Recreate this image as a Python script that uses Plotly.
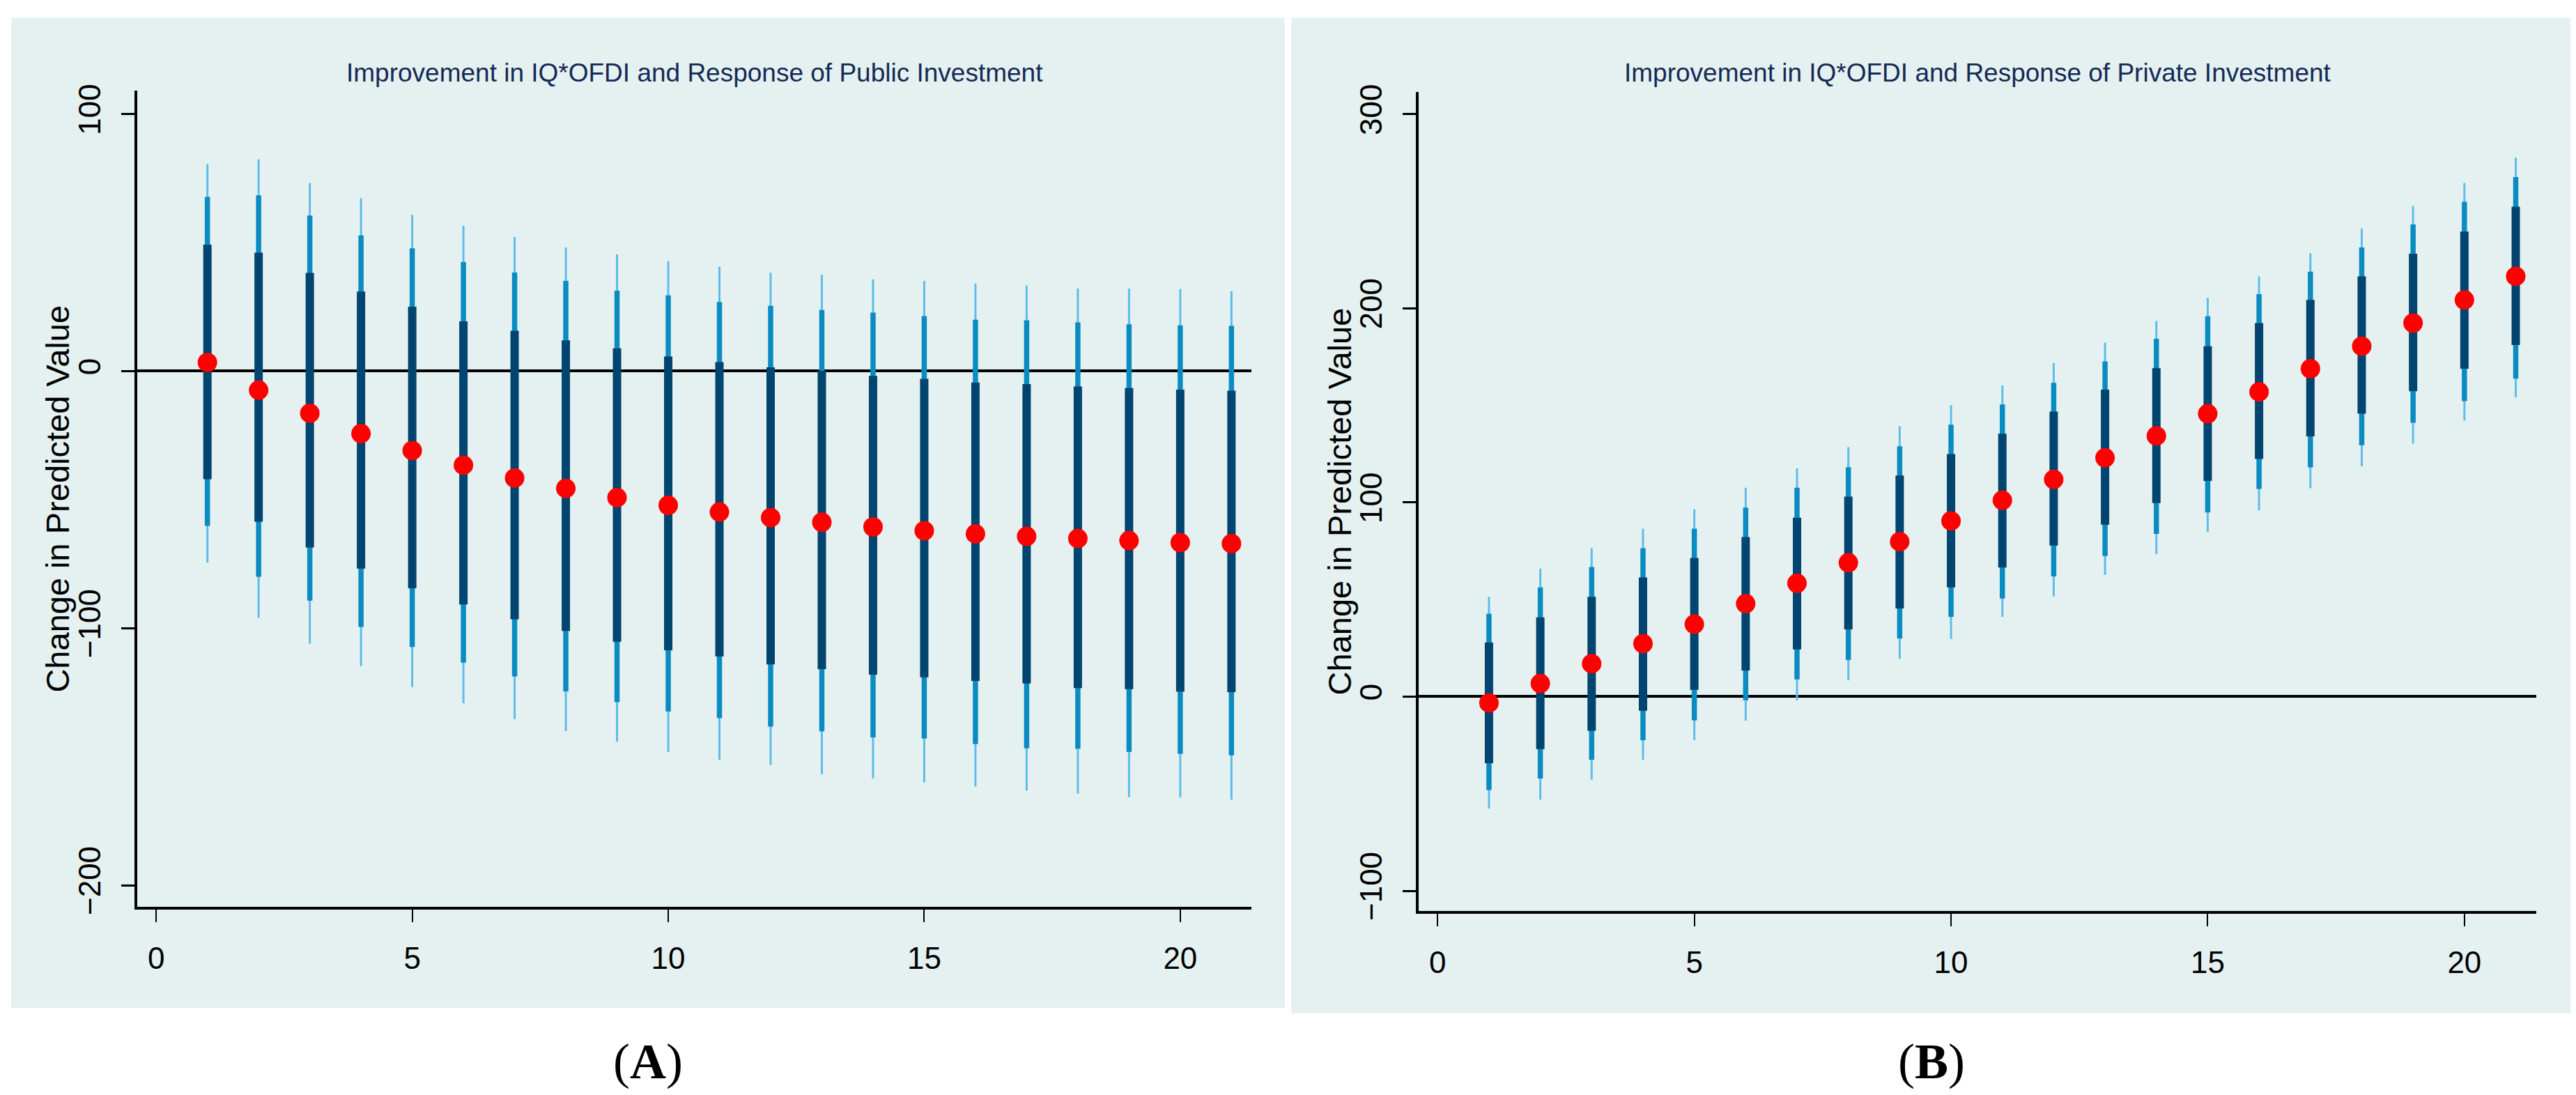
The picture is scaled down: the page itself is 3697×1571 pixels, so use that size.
import plotly.graph_objects as go

W, H = 3697, 1571

steps = list(range(1, 22))

# Panel A: public investment
pub_est = [3.4, -7.4, -16.4, -24.3, -30.9, -36.6, -41.6, -45.6, -49.2, -52.2, -54.8,
           -57.0, -58.8, -60.6, -62.1, -63.3, -64.3, -65.1, -65.9, -66.7, -67.1]
pub_hi_in = [49.2, 46.1, 38.2, 31.0, 25.1, 19.4, 15.7, 12.0, 8.9, 5.7, 3.5,
             1.5, 0.1, -1.8, -3.0, -4.4, -5.0, -6.0, -6.6, -7.2, -7.6]
pub_lo_in = [-42.0, -58.6, -68.6, -76.8, -84.5, -90.8, -96.5, -101.1, -105.3, -108.6, -111.0,
             -114.1, -115.9, -118.1, -119.1, -120.5, -121.5, -123.3, -123.7, -124.7, -124.9]
pub_hi_mid = [67.8, 68.4, 60.5, 52.8, 47.8, 42.4, 38.4, 35.1, 31.3, 29.5, 26.9,
              25.4, 23.8, 22.8, 21.4, 20.0, 19.8, 19.0, 18.2, 17.8, 17.6]
pub_lo_mid = [-60.2, -80.0, -89.3, -99.5, -107.3, -113.4, -118.8, -124.6, -128.7, -132.4, -135.0,
              -138.3, -140.1, -142.5, -142.9, -145.1, -146.7, -146.9, -148.1, -148.9, -149.5]
pub_hi_out = [80.5, 82.4, 73.2, 67.3, 60.8, 56.5, 52.2, 48.1, 45.4, 42.8, 40.6,
              38.3, 37.5, 35.7, 35.1, 34.1, 33.3, 32.1, 32.1, 31.9, 31.1]
pub_lo_out = [-74.5, -95.9, -106.0, -114.8, -122.9, -129.2, -135.4, -140.0, -144.1, -148.1, -151.2,
              -153.2, -156.8, -158.4, -160.0, -161.6, -163.2, -164.3, -165.7, -165.9, -166.7]

# Panel B: private investment
priv_est = [-3.2, 6.8, 17.0, 27.3, 37.3, 47.9, 58.4, 69.0, 79.8, 90.5, 101.1,
            111.9, 123.0, 134.3, 145.7, 157.0, 168.9, 180.5, 192.4, 204.3, 216.5]
priv_hi_in = [27.9, 40.8, 51.4, 61.4, 71.4, 82.2, 92.2, 103.0, 113.9, 124.9, 135.4,
              146.8, 158.1, 169.2, 180.5, 192.4, 204.3, 216.5, 228.1, 239.5, 252.4]
priv_lo_in = [-34.3, -27.0, -17.6, -7.3, 3.5, 13.5, 24.3, 34.6, 45.4, 56.3, 66.5,
              77.8, 88.6, 99.7, 111.1, 122.4, 134.1, 145.7, 157.3, 168.9, 181.1]
priv_hi_mid = [42.7, 56.3, 66.8, 76.5, 86.5, 97.4, 107.6, 118.2, 129.0, 140.1, 150.5,
               161.6, 172.7, 184.3, 195.9, 207.3, 218.9, 231.4, 243.2, 254.9, 267.6]
priv_lo_mid = [-48.1, -42.2, -32.5, -22.4, -12.2, -1.9, 8.9, 18.9, 30.0, 41.1, 50.5,
               61.9, 72.4, 83.8, 94.9, 107.0, 118.1, 129.5, 141.1, 152.2, 163.8]
priv_hi_out = [51.4, 66.0, 76.5, 86.5, 96.6, 107.6, 117.6, 128.5, 139.3, 150.1, 160.3,
               171.9, 182.4, 193.5, 205.4, 216.5, 228.4, 241.1, 252.7, 264.6, 277.6]
priv_lo_out = [-57.6, -53.0, -42.7, -32.5, -22.4, -12.4, -1.9, 8.4, 19.5, 29.7, 41.1,
               51.6, 62.7, 73.5, 84.9, 95.9, 107.3, 118.6, 130.3, 142.2, 154.1]

titles = ["Improvement in IQ*OFDI and Response of Public Investment",
          "Improvement in IQ*OFDI and Response of Private Investment"]
ytitle = "Change in Predicted Value"
panel_labels = ["(<b>A</b>)", "(<b>B</b>)"]
x_ticks = [0, 5, 10, 15, 20]
y_ticks_a = [-200, -100, 0, 100]
y_ticks_b = [-100, 0, 100, 200, 300]

C_DARK = "#00456f"
C_MID = "#0a8cc3"
C_LIGHT = "#5dbde8"
C_BG = "#e5f1f1"
C_TITLE = "#142a55"
FONT = "Liberation Sans, Arial, sans-serif"


def segs(xv, lo, hi):
    xs, ys = [], []
    for x, a, b in zip(xv, lo, hi):
        xs += [x, x, None]
        ys += [a, b, None]
    return xs, ys


fig = go.Figure()

panels = [
    ("x", "y", pub_est, pub_lo_in, pub_hi_in, pub_lo_mid, pub_hi_mid, pub_lo_out, pub_hi_out),
    ("x2", "y2", priv_est, priv_lo_in, priv_hi_in, priv_lo_mid, priv_hi_mid, priv_lo_out, priv_hi_out),
]
for xa, ya, est, li, hi_, lm, hm, lo_, ho in panels:
    for lo, hi, col, wd in [(lo_, ho, C_LIGHT, 3), (lm, hm, C_MID, 7.5), (li, hi_, C_DARK, 12)]:
        xs, ys = segs(steps, lo, hi)
        fig.add_trace(go.Scatter(x=xs, y=ys, mode="lines", line=dict(color=col, width=wd),
                                 xaxis=xa, yaxis=ya, showlegend=False, hoverinfo="skip"))
    fig.add_trace(go.Scatter(x=steps, y=est, mode="markers",
                             marker=dict(color="#ff0000", size=28, line=dict(width=0)),
                             xaxis=xa, yaxis=ya, showlegend=False))

# geometry in target-image pixels
pa = dict(x0=197, x1=1796, y0=127, y1=1299)
pb = dict(x0=2036, x1=3640, y0=128.6, y1=1305)
bg_a = dict(x0=16, x1=1844, y0=22, y1=1444)
bg_b = dict(x0=1853, x1=3690, y0=22, y1=1452)
OX = 8      # page margin left of the figure
OY = 16     # page offset above the figure
SY = 0.985  # vertical scale of the captured page


def fx(p):
    return (p - OX) / W


def fy(p):
    return 1 - (p / SY - OY) / H


axis_common = dict(showline=True, linecolor="black", linewidth=4, ticks="outside",
                   tickcolor="black", tickfont=dict(family=FONT, size=44, color="black"),
                   mirror=False)

fig.update_layout(
    width=W, height=H,
    margin=dict(l=0, r=0, t=0, b=0),
    paper_bgcolor="white", plot_bgcolor="white",
    showlegend=False,
    xaxis=dict(domain=[fx(pa["x0"]), fx(pa["x1"])], range=[-0.37, 21.39], tickvals=x_ticks,
               showgrid=False, zeroline=False, ticklen=18, tickwidth=2, ticklabelstandoff=14,
               anchor="y", **axis_common),
    yaxis=dict(domain=[fy(pa["y1"]), fy(pa["y0"])], range=[-208.4, 109.1], tickvals=y_ticks_a,
               showgrid=True, gridcolor=C_BG, gridwidth=4, zeroline=True, zerolinecolor="black",
               zerolinewidth=4, ticklen=19, tickwidth=3,
               tickangle=-90, ticklabelstandoff=12, anchor="x", **axis_common),
    xaxis2=dict(domain=[fx(pb["x0"]), fx(pb["x1"])], range=[-0.37, 21.4], tickvals=x_ticks,
                showgrid=False, zeroline=False, ticklen=18, tickwidth=2, ticklabelstandoff=14,
                anchor="y2", **axis_common),
    yaxis2=dict(domain=[fy(pb["y1"]), fy(pb["y0"])], range=[-110.4, 311.5], tickvals=y_ticks_b,
                showgrid=True, gridcolor=C_BG, gridwidth=4, zeroline=True, zerolinecolor="black",
                zerolinewidth=4, ticklen=19, tickwidth=3,
                tickangle=-90, ticklabelstandoff=12, anchor="x2", **axis_common),
)

# panel backgrounds
for bg in (bg_a, bg_b):
    fig.add_shape(type="rect", xref="paper", yref="paper", x0=fx(bg["x0"]), x1=fx(bg["x1"]),
                  y0=fy(bg["y1"]), y1=fy(bg["y0"]), fillcolor=C_BG, line=dict(width=0),
                  layer="below")

# titles, axis titles, panel labels
for p, bg, t, lab, ytx in [(pa, bg_a, titles[0], panel_labels[0], 83),
                           (pb, bg_b, titles[1], panel_labels[1], 1922)]:
    fig.add_annotation(text=t, xref="paper", yref="paper", x=fx((p["x0"] + p["x1"]) / 2),
                       y=fy(101), xanchor="center", yanchor="middle", showarrow=False,
                       font=dict(family=FONT, size=37, color=C_TITLE))
    fig.add_annotation(text=ytitle, xref="paper", yref="paper", x=fx(ytx),
                       y=fy((p["y0"] + p["y1"]) / 2), xanchor="center", yanchor="middle",
                       textangle=-90, showarrow=False,
                       font=dict(family=FONT, size=47, color="black"))
    fig.add_annotation(text=lab, xref="paper", yref="paper", x=fx((bg["x0"] + bg["x1"]) / 2),
                       y=fy(1521), xanchor="center", yanchor="middle", showarrow=False,
                       font=dict(family="Liberation Serif, Times New Roman, serif", size=72,
                                 color="black"))

fig.write_html("out.html")
